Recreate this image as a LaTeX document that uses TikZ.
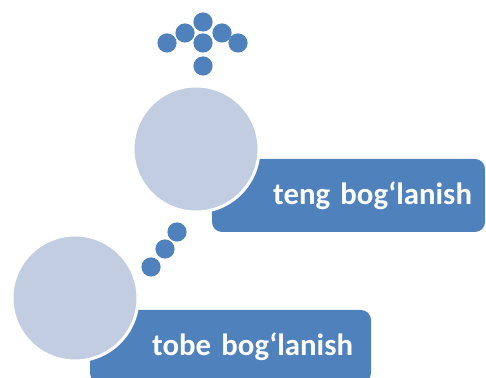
\documentclass[tikz,border=0pt]{standalone}
\usepackage{fontspec}
\setmainfont{Carlito}
\usepackage{tikz}
\usetikzlibrary{positioning, calc}
\definecolor{boxblue}{RGB}{79,129,189}
\definecolor{ballgrey}{RGB}{194,205,226}
\tikzset{%
	ball/.style={draw=white, line width=1.5pt, circle, fill=ballgrey, minimum size=63pt, inner sep=0pt},
	dot/.style={circle, fill=boxblue, minimum size=9.6pt, inner sep=0pt},
	tag/.style={rectangle, fill=boxblue, rounded corners=5pt, minimum height=36.5pt,%
		align=right, text=white, font=\fontsize{15.4}{18}\selectfont\bfseries}
}
\begin{document}
\begin{tikzpicture}[x=0.5pt, y=-0.5pt]
	\useasboundingbox (0,0) rectangle (486,378);
	\node[tag, minimum width=136.5pt, text width=123.5pt, inner xsep=6.5pt] (up) at (348.5,195.5) {teng bog‘lanish};
	\node[tag, minimum width=140.5pt, text width=122.5pt, inner xsep=9pt] (low) at (230.5,346.5) {tobe bog‘lanish};
	\node[ball] (c1) at (196,149) {};
	\node[ball] (c2) at (75,298) {};

	% arrow of dots
	\foreach \x/\y [count=\i] in {203/22, 185/33, 222/33, 167/43, 203/43, 238/43, 203/66}
		\node[dot] (a\i) at (\x,\y) {};
	% dots between the circles
	\foreach \x/\y [count=\i] in {177/232, 165/249, 151/267}
		\node[dot] (b\i) at (\x,\y) {};
\end{tikzpicture}
\end{document}
